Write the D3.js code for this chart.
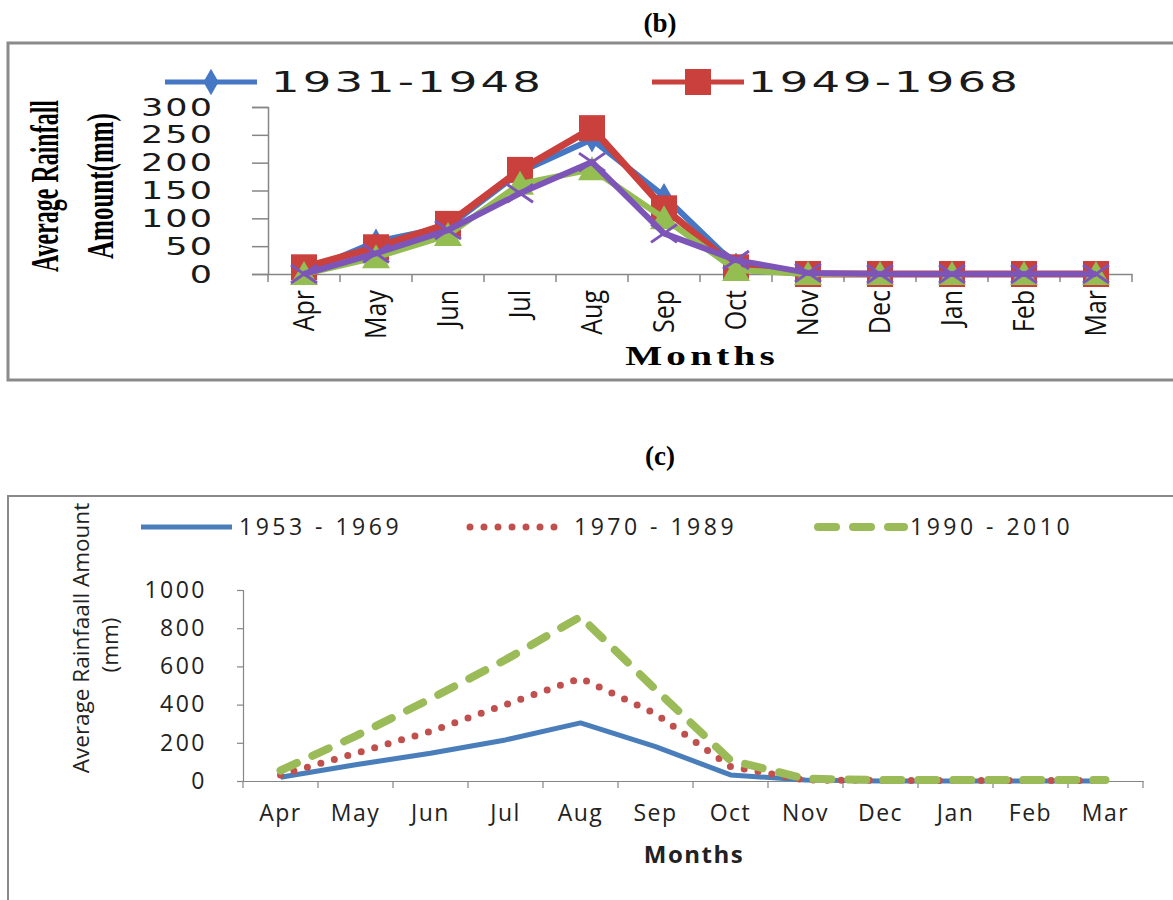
<!DOCTYPE html>
<html>
<head>
<meta charset="utf-8">
<script src="https://cdn.jsdelivr.net/npm/d3@7"></script>
<style>
  body { margin: 0; background: #fff; }
  svg { display: block; }
</style>
</head>
<body>
<div id="graf"></div>
<script>
// DATOS
months = ['Apr', 'May', 'Jun', 'Jul', 'Aug', 'Sep', 'Oct', 'Nov', 'Dec', 'Jan', 'Feb', 'Mar']

// (b) four series, only two legend entries are visible in the figure
b_names = ['1931-1948', '1949-1968', 'Series 3', 'Series 4']
b_1931 = [3, 58, 85, 183, 242, 140, 15, 0, 0, 0, 0, 0]
b_1949 = [12, 48, 90, 187, 262, 118, 12, 0, 0, 0, 0, 0]
b_s3   = [0, 30, 70, 162, 188, 100, 7, 0, 0, 0, 0, 0]
b_s4   = [0, 37, 79, 145, 201, 73, 25, 2, 0, 0, 0, 0]
b_ticks = [0, 50, 100, 150, 200, 250, 300]

// (c)
c_names = ['1953 - 1969', '1970 - 1989', '1990 - 2010']
c_1953 = [20, 85, 145, 215, 304, 180, 32, 5, 0, 0, 0, 0]
c_1970 = [32, 145, 260, 400, 538, 352, 75, 5, 3, 3, 3, 3]
c_1990 = [55, 235, 430, 635, 860, 480, 108, 12, 5, 5, 5, 5]
c_ticks = [0, 200, 400, 600, 800, 1000]

ancho_total = 1173
alto_total = 900

svg = d3.select('#graf').append('svg')
        .attr('width', ancho_total)
        .attr('height', alto_total)

axisGray = '#868686'
stretch = 1.4   // panel (b) is stretched sideways in the figure

// ======================= (b) =======================
svg.append('text')
   .attr('x', 660).attr('y', 32)
   .attr('text-anchor', 'middle')
   .style('font-family', 'Liberation Serif').style('font-weight', 'bold').style('font-size', '27px')
   .text('(b)')

svg.append('rect')
   .attr('x', 8).attr('y', 43).attr('width', 1200).attr('height', 337)
   .attr('fill', 'none').attr('stroke', '#8a8a8a').attr('stroke-width', 3)

xb = d3.scaleBand().domain(months).range([268, 1132])
yb = d3.scaleLinear().domain([0, 300]).range([274, 107])

gb = svg.append('g')

// eje Y
yAxisB = gb.append('g')
   .attr('transform', 'translate(268,0)')
   .call(d3.axisLeft(yb).tickValues(b_ticks).tickSize(16))
yAxisB.select('.domain').attr('stroke', axisGray).attr('stroke-width', 1.5)
yAxisB.selectAll('.tick line').attr('stroke', axisGray).attr('stroke-width', 1.5)
yAxisB.selectAll('text')
   .attr('x', -54 / stretch)
   .attr('transform', `scale(${stretch},1)`)
   .style('font-family', 'DejaVu Sans').style('font-size', '25px')
   .style('letter-spacing', '1.5px').attr('fill', '#1a1a1a')

// eje X
xAxisB = gb.append('g')
   .attr('transform', 'translate(0,274)')
   .call(d3.axisBottom(xb).tickSize(0))
xAxisB.select('.domain').attr('stroke', axisGray).attr('stroke-width', 1.5)
xAxisB.selectAll('text')
   .attr('transform', `scale(1.15,1) rotate(-90)`)
   .attr('x', -16).attr('y', 0).attr('dy', '0.36em')
   .attr('text-anchor', 'end')
   .style('font-family', 'Open Sans').style('font-size', '25px').attr('fill', '#111')
// ticks between categories
gb.append('g').selectAll('line')
   .data(months.concat(['end']))
   .enter().append('line')
   .attr('x1', (d, i) => 268 + i * xb.bandwidth())
   .attr('x2', (d, i) => 268 + i * xb.bandwidth())
   .attr('y1', 274).attr('y2', 282)
   .attr('stroke', axisGray).attr('stroke-width', 1.5)

// titulos de ejes
gb.append('text')
   .attr('transform', `translate(702,365) scale(${stretch},1)`)
   .attr('text-anchor', 'middle')
   .style('font-family', 'Liberation Serif').style('font-weight', 'bold')
   .style('font-size', '28px').style('letter-spacing', '3px')
   .text('Months')

// condensed bold serif title, squeezed to a fixed length
function condensedTitle(x, y, len, size, txt) {
  t = gb.append('text')
     .attr('text-anchor', 'middle')
     .style('font-family', 'Liberation Serif').style('font-weight', 'bold').style('font-size', size + 'px')
     .text(txt)
  k = len / t.node().getComputedTextLength()
  t.attr('transform', `translate(${x},${y}) rotate(-90) scale(${k},1)`)
}
condensedTitle(58, 186, 172, 39, 'Average Rainfall')
condensedTitle(113, 186, 146, 38, 'Amount(mm)')

b_series = [
  { name: b_names[0], values: b_1931, color: '#4577c4', width: 6, marker: 'diamond' },
  { name: b_names[1], values: b_1949, color: '#c9403d', width: 7, marker: 'square' },
  { name: b_names[2], values: b_s3,   color: '#94bd52', width: 6, marker: 'triangle' },
  { name: b_names[3], values: b_s4,   color: '#7d55b8', width: 6, marker: 'x' }
]

lineB = d3.line()
  .x((d, i) => xb(months[i]) + xb.bandwidth() / 2)
  .y(d => yb(d))

function drawMarker(sel, type, color) {
  if (type === 'diamond') {
    sel.append('path').attr('d', d3.symbol(d3.symbolDiamond, 200)()).attr('fill', color)
  } else if (type === 'square') {
    sel.append('rect').attr('x', -13).attr('y', -13).attr('width', 26).attr('height', 26).attr('fill', color)
  } else if (type === 'triangle') {
    sel.append('path').attr('d', 'M0,-13L14,11L-14,11Z').attr('fill', color)
  } else {
    sel.append('path').attr('d', 'M-13,-9L13,9M-13,9L13,-9')
       .attr('stroke', color).attr('stroke-width', 3).attr('fill', 'none')
  }
}

b_series.forEach(s => {
  gb.append('path')
    .datum(s.values)
    .attr('d', lineB)
    .attr('fill', 'none')
    .attr('stroke', s.color)
    .attr('stroke-width', s.width)
    .attr('stroke-linejoin', 'round')
  gb.append('g').selectAll('g')
    .data(s.values)
    .enter().append('g')
    .attr('transform', (d, i) => `translate(${xb(months[i]) + xb.bandwidth() / 2},${yb(d)})`)
    .each(function () { drawMarker(d3.select(this), s.marker, s.color) })
})

// leyenda (b)
legB = gb.append('g').selectAll('g')
  .data(b_series.slice(0, 2))
  .enter().append('g')
  .attr('transform', (d, i) => `translate(${[165, 652][i]},82)`)
legB.append('line')
  .attr('x1', 0).attr('x2', 92).attr('y1', 0).attr('y2', 0)
  .attr('stroke', d => d.color).attr('stroke-width', 5)
legB.each(function (d) {
  m = d3.select(this).append('g').attr('transform', 'translate(46,0)')
  drawMarker(m, d.marker, d.color)
})
legB.append('text')
  .attr('transform', (d, i) => `translate(${[106, 96][i]},0) scale(1.55,1)`)
  .attr('dy', '0.36em')
  .style('font-family', 'DejaVu Sans').style('font-size', '29px').style('letter-spacing', '2px')
  .attr('fill', '#1a1a1a')
  .text(d => d.name)

// ======================= (c) =======================
svg.append('text')
   .attr('x', 660).attr('y', 465)
   .attr('text-anchor', 'middle')
   .style('font-family', 'Liberation Serif').style('font-weight', 'bold').style('font-size', '27px')
   .text('(c)')

svg.append('rect')
   .attr('x', 8).attr('y', 496).attr('width', 1200).attr('height', 500)
   .attr('fill', 'none').attr('stroke', '#8a8a8a').attr('stroke-width', 2)

xc = d3.scaleBand().domain(months).range([243, 1143])
yc = d3.scaleLinear().domain([0, 1000]).range([781, 590])

gc = svg.append('g')

yAxisC = gc.append('g')
   .attr('transform', 'translate(243,0)')
   .call(d3.axisLeft(yc).tickValues(c_ticks).tickFormat(d3.format('d')).tickSize(6).tickPadding(30))
yAxisC.select('.domain').attr('stroke', axisGray).attr('stroke-width', 1.2)
yAxisC.selectAll('.tick line').attr('stroke', axisGray).attr('stroke-width', 1.2)
yAxisC.selectAll('text')
   .style('font-family', 'Open Sans').style('font-size', '23px')
   .style('letter-spacing', '2.5px').attr('fill', '#222')

xAxisC = gc.append('g')
   .attr('transform', 'translate(0,781)')
   .call(d3.axisBottom(xc).tickSize(0).tickPadding(24))
xAxisC.select('.domain').attr('stroke', axisGray).attr('stroke-width', 1.2)
xAxisC.selectAll('text')
   .style('font-family', 'Open Sans').style('font-size', '23px')
   .style('letter-spacing', '1.5px').attr('fill', '#222')
gc.append('g').selectAll('line')
   .data(months.concat(['end']))
   .enter().append('line')
   .attr('x1', (d, i) => 243 + i * xc.bandwidth())
   .attr('x2', (d, i) => 243 + i * xc.bandwidth())
   .attr('y1', 781).attr('y2', 788)
   .attr('stroke', axisGray).attr('stroke-width', 1.2)

gc.append('text')
   .attr('x', 694).attr('y', 863)
   .attr('text-anchor', 'middle')
   .style('font-family', 'Open Sans').style('font-weight', 'bold').style('font-size', '24px')
   .style('letter-spacing', '1.5px')
   .attr('fill', '#222')
   .text('Months')

gc.append('text')
   .attr('transform', 'translate(89,638) rotate(-90)')
   .attr('text-anchor', 'middle')
   .style('font-family', 'Open Sans').style('font-size', '22.5px').attr('fill', '#222')
   .text('Average Rainfaall Amount')
gc.append('text')
   .attr('transform', 'translate(118,645) rotate(-90)')
   .attr('text-anchor', 'middle')
   .style('font-family', 'Open Sans').style('font-size', '22.5px').attr('fill', '#222')
   .text('(mm)')

c_series = [
  { name: c_names[0], values: c_1953, color: '#4a7ebb', width: 5, dash: null },
  { name: c_names[1], values: c_1970, color: '#c0504d', width: 7, dash: '0 14' },
  { name: c_names[2], values: c_1990, color: '#9bbb59', width: 8, dash: '18 17' }
]

lineC = d3.line()
  .x((d, i) => xc(months[i]) + xc.bandwidth() / 2)
  .y(d => yc(d))

c_series.forEach(s => {
  gc.append('path')
    .datum(s.values)
    .attr('d', lineC)
    .attr('fill', 'none')
    .attr('stroke', s.color)
    .attr('stroke-width', s.width)
    .attr('stroke-linejoin', 'round')
    .attr('stroke-linecap', s.dash ? 'round' : 'butt')
    .attr('stroke-dasharray', s.dash)
})

legC = gc.append('g').selectAll('g')
  .data(c_series)
  .enter().append('g')
  .attr('transform', (d, i) => `translate(${[141, 470, 818][i]},527)`)
legC.append('line')
  .attr('x1', 0).attr('x2', (d, i) => [91, 88, 86][i]).attr('y1', 0).attr('y2', 0)
  .attr('stroke', d => d.color).attr('stroke-width', d => d.width)
  .attr('stroke-linecap', d => d.dash ? 'round' : 'butt')
  .attr('stroke-dasharray', d => d.dash)
legC.append('text')
  .attr('x', (d, i) => [98, 104, 92][i]).attr('y', 0).attr('dy', '0.36em')
  .style('font-family', 'Open Sans').style('font-size', '23px').style('letter-spacing', '3.5px')
  .attr('fill', '#222')
  .text(d => d.name)
</script>
</body>
</html>
